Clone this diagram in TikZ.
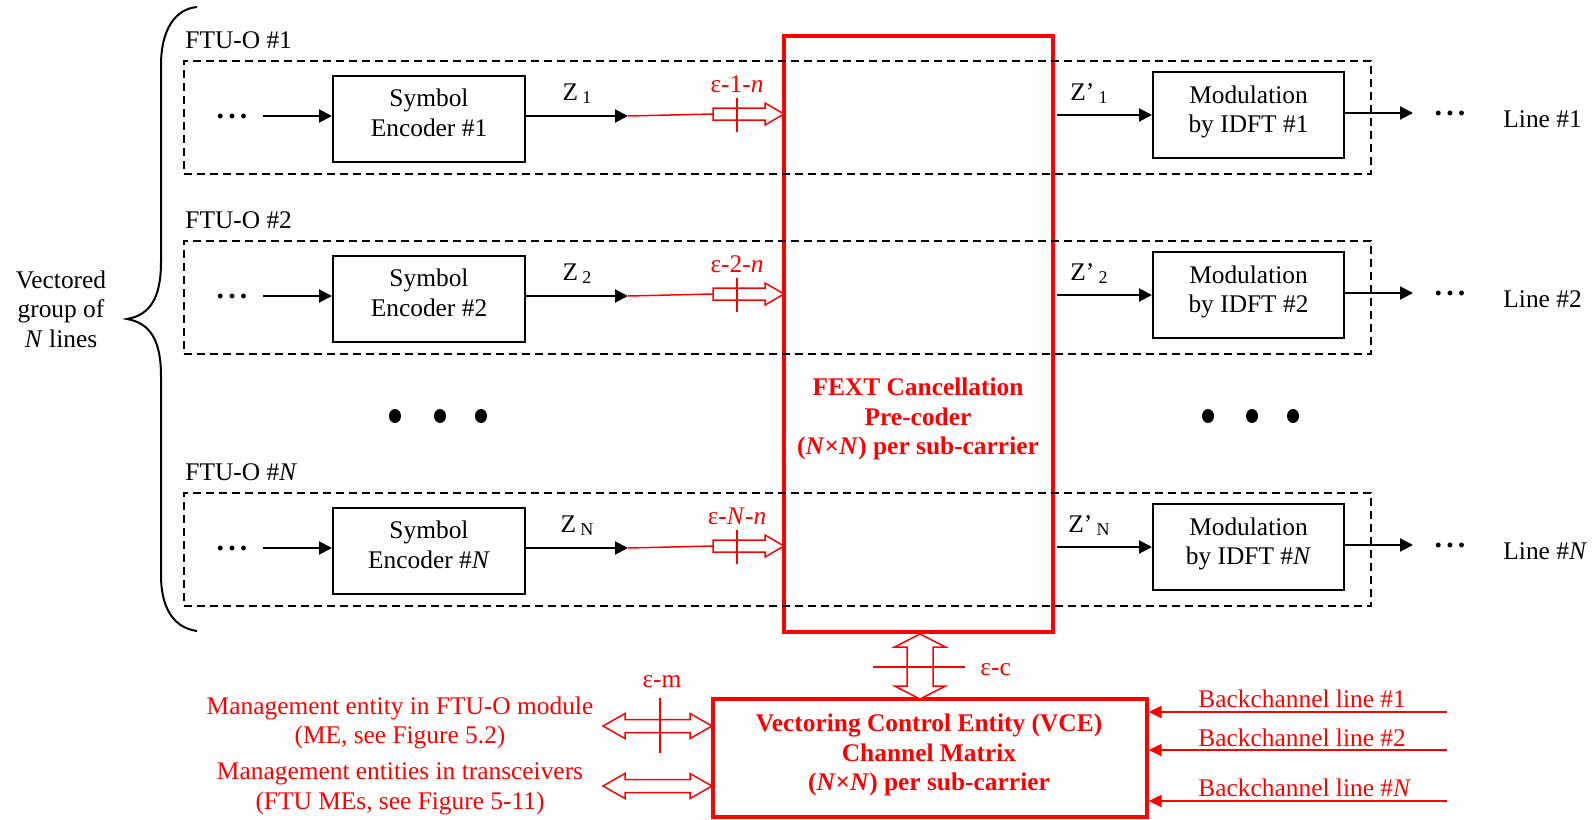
\documentclass[tikz,border=0pt]{standalone}
\usepackage{fontspec}
\setmainfont{Liberation Serif}
\usetikzlibrary{arrows.meta}
\definecolor{vred}{RGB}{255,0,0}
\newcommand{\smalldots}{{\fontsize{15}{15}\selectfont\bfseries .\kern 2.1pt.\kern 2.1pt.}}
\begin{document}
\begin{tikzpicture}[x=0.5pt,y=-0.5pt,
  every node/.style={font=\fontsize{12.7}{14.8}\selectfont, inner sep=0pt, align=center},
  boldtxt/.style={font=\fontsize{12.7}{14.8}\selectfont\bfseries, text=vred},
  redtxt/.style={text=vred},
  blkbox/.style={draw, line width=1pt},
  dashbox/.style={draw, line width=0.9pt, dash pattern=on 4pt off 2.5pt},
  redbox/.style={draw=vred, line width=1.7pt},
  arr/.style={line width=1pt, -{Triangle[length=6.5pt,width=6.5pt]}},
  redarr/.style={draw=vred, line width=1.2pt, -{Triangle[length=6.5pt,width=6pt]}},
  redthin/.style={draw=vred, line width=0.75pt},
  hollow/.style={draw=vred, line width=0.75pt, fill=white},
  bigdot/.style={fill=black, draw=none}
]
\useasboundingbox (0,0) rectangle (1594,819);

% brace and group label
\draw[line width=1pt] (197,7) .. controls (175,9) and (161,30) .. (161,65)
  -- (161,262) .. controls (161,298) and (150,315) .. (127,319)
  .. controls (150,323) and (161,340) .. (161,376)
  -- (161,575) .. controls (161,610) and (175,628) .. (197,631);
\node (grp) at (61,309) {Vectored\\group of\\\textit{N} lines};

% red precoder box
\node[redbox, minimum width=134.5pt, minimum height=298pt] (fext) at (918.5,334) {};

\foreach \r/\Y/\lab in {1/116/1, 2/296/2, N/548/\textit{N}} {
  \node[dashbox, minimum width=593.5pt, minimum height=56.5pt] (ftu\r) at (777.5,\Y+1.5) {};
  \node[anchor=west] (ftul\r) at (185,\Y-76) {FTU-O \#\lab};
  % left part
  \node (ldots\r) at (232,\Y) {\smalldots};
  \coordinate (in\r) at (263,\Y);
  \node[blkbox, minimum width=96pt, minimum height=43pt] (enc\r) at (429,\Y+3) {};
  \node (enct\r) at (429,\Y-3) {Symbol\\Encoder \#\lab};
  \draw[arr] (in\r) -- (enc\r.west |- in\r);
  \coordinate (zend\r) at (628,\Y);
  \draw[arr] (enc\r.east |- in\r) -- (zend\r);
  \node (zl\r) at (577,\Y-22) {Z\,\raisebox{-1.5pt}{\fontsize{9}{10}\selectfont \r}};
  % red link and hollow arrow
  \coordinate (hs\r) at (713,\Y-2);
  \draw[redthin] (zend\r) -- (hs\r);
  \draw[hollow] (hs\r) ++(0,-6) -- ++(52,0) -- ++(0,-5) -- ++(19,11) -- ++(-19,11)
    -- ++(0,-5) -- ++(-52,0) -- cycle;
  \draw[redthin] ([shift={(24,-16)}]hs\r) -- ++(0,34);
  \node[redtxt] (eps\r) at (737,\Y-32) {ε-\lab-\textit{n}};
  % right part
  \coordinate (zps\r) at (1057,\Y-1);
  \node[blkbox, minimum width=95.5pt, minimum height=43pt] (mod\r) at (1248.5,\Y-1) {};
  \node (modt\r) at (1248.5,\Y-4) {Modulation\\by IDFT \#\lab};
  \draw[arr] (zps\r) -- (mod\r.west |- zps\r);
  \node (zpl\r) at (1089,\Y-22) {Z’\,\raisebox{-1.5pt}{\fontsize{9}{10}\selectfont \r}};
  \coordinate (out\r) at (1413,\Y-3);
  \draw[arr] (mod\r.east |- out\r) -- (out\r);
  \node (rdots\r) at (1450,\Y-3) {\smalldots};
  \node[anchor=west] (line\r) at (1503,\Y+3) {Line \#\lab};
}

% big dots
\foreach \x in {395,440,481,1208,1252,1293}
  \fill[bigdot] (\x,416) ellipse [x radius=6, y radius=7];

% precoder text
\node[boldtxt] (fextt) at (918,419) {FEXT Cancellation\\Pre-coder\\(\textit{N}×\textit{N}) per sub-carrier};

% VCE
\node[redbox, minimum width=217pt, minimum height=59pt] (vce) at (930,758) {};
\node[boldtxt] (vcet) at (929,755) {Vectoring Control Entity (VCE)\\Channel Matrix\\(\textit{N}×\textit{N}) per sub-carrier};

% epsilon-c double arrow
\coordinate (ec) at (920,666.5);
\draw[hollow] (920,634) -- (945.5,647) -- (933,647) -- (933,686) -- (945.5,686) -- (920,699)
  -- (894.5,686) -- (907,686) -- (907,647) -- (894.5,647) -- cycle;
\draw[redthin] (873,667) -- (965,667);
\node[redtxt, anchor=west] (epsc) at (980,670) {ε-c};

% epsilon-m double arrows
\foreach \yy/\nm in {726/a, 786/b} {
  \draw[hollow] (603,\yy) -- (625,\yy-12.5) -- (625,\yy-6.5) -- (690,\yy-6.5) -- (690,\yy-12.5)
    -- (712,\yy) -- (690,\yy+12.5) -- (690,\yy+6.5) -- (625,\yy+6.5) -- (625,\yy+12.5) -- cycle;
}
\draw[redthin] (660,698) -- (660,753);
\node[redtxt] (epsm) at (662,682) {ε-m};
\node[redtxt] (me1) at (400,723) {Management entity in FTU-O module\\(ME, see Figure 5.2)};
\node[redtxt] (me2) at (400,789) {Management entities in transceivers\\(FTU MEs, see Figure 5-11)};

% backchannels
\foreach \yy/\ty/\lab/\nm in {712/699/1/1, 750/738/2/2, 801/788/\textit{N}/N} {
  \coordinate (bc\nm) at (1447,\yy);
  \draw[redarr] (bc\nm) -- (vce.east |- bc\nm);
  \node[redtxt, anchor=west] (bct\nm) at (1198,\ty) {Backchannel line \#\lab};
}
\end{tikzpicture}
\end{document}
